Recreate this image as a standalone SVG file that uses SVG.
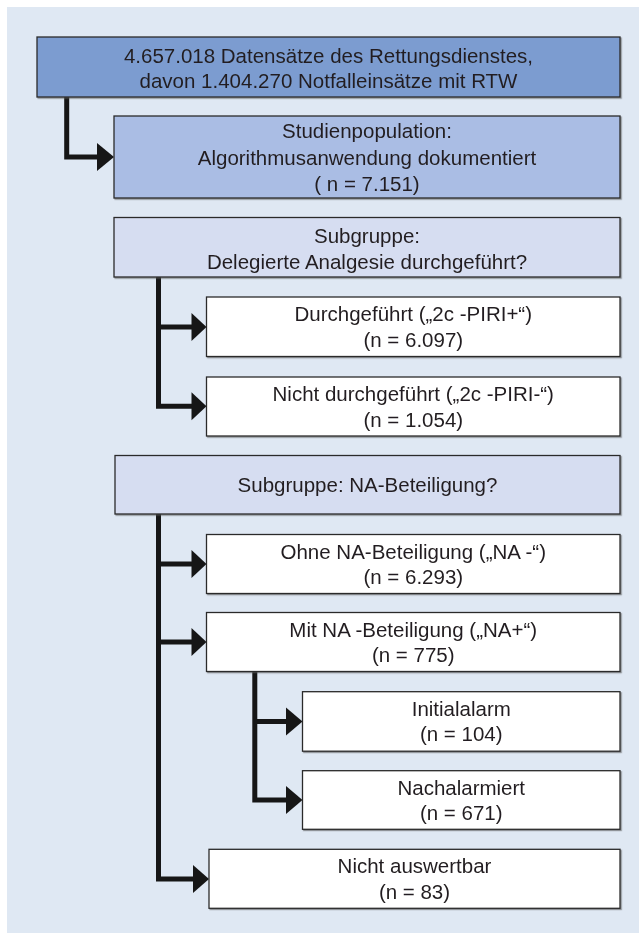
<svg xmlns="http://www.w3.org/2000/svg" width="639" height="933" viewBox="0 0 639 933">
<style>
.box{stroke:#2a2a2a;stroke-width:1.3}
.b1{fill:#7b9cd0}
.b2{fill:#aabde4}
.b3{fill:#d6ddf1}
.w{fill:#ffffff}
text{font-family:"Liberation Sans",Arial,sans-serif;font-size:20.5px;fill:#231f20;text-anchor:middle}
.ln{fill:none;stroke:#161616;stroke-width:5;stroke-linejoin:miter;stroke-linecap:butt}
.ah{fill:#161616}
</style>
<defs>
<filter id="sh" x="-5%" y="-5%" width="115%" height="130%">
<feDropShadow dx="1.2" dy="1.2" stdDeviation="0.6" flood-color="#555" flood-opacity="0.6"/>
</filter>
</defs>
<rect x="7" y="7" width="632" height="926" fill="#dfe8f3"/>

<g id="connectors">
<path class="ln" d="M66.7,97 V157 H98"/>
<polygon class="ah" points="97,143 114,157 97,171"/>
<path class="ln" d="M158.5,277 V406.3 H193"/>
<path class="ln" d="M158.5,327 H193"/>
<polygon class="ah" points="191.5,313 206.5,327 191.5,341"/>
<polygon class="ah" points="191.5,392.3 206.5,406.3 191.5,420.3"/>
<path class="ln" d="M158.5,514 V879 H194"/>
<path class="ln" d="M158.5,564 H193"/>
<path class="ln" d="M158.5,642 H193"/>
<polygon class="ah" points="191.5,550 206.5,564 191.5,578"/>
<polygon class="ah" points="191.5,628 206.5,642 191.5,656"/>
<polygon class="ah" points="193,865 209,879 193,893"/>
<path class="ln" d="M254.8,671.7 V800 H287"/>
<path class="ln" d="M254.8,721.5 H287"/>
<polygon class="ah" points="286,707.5 302.5,721.5 286,735.5"/>
<polygon class="ah" points="286,786 302.5,800 286,814"/>
</g>

<g id="n1" filter="url(#sh)">
<rect class="box b1" x="37" y="37" width="583" height="60"/>
<text x="328.5" y="62.5">4.657.018 Datensätze des Rettungsdienstes,</text>
<text x="328.5" y="88">davon 1.404.270 Notfalleinsätze mit RTW</text>
</g>
<g id="n2" filter="url(#sh)">
<rect class="box b2" x="114" y="116" width="506" height="82"/>
<text x="367" y="138">Studienpopulation:</text>
<text x="367" y="164.5">Algorithmusanwendung dokumentiert</text>
<text x="367" y="191">( n = 7.151)</text>
</g>
<g id="n3" filter="url(#sh)">
<rect class="box b3" x="114" y="217.5" width="506" height="59.5"/>
<text x="367" y="243">Subgruppe:</text>
<text x="367" y="269">Delegierte Analgesie durchgeführt?</text>
</g>
<g id="n4" filter="url(#sh)">
<rect class="box w" x="206.5" y="297" width="413.5" height="59.5"/>
<text x="413.25" y="321">Durchgeführt („2c -PIRI+“)</text>
<text x="413.25" y="346.5">(n = 6.097)</text>
</g>
<g id="n5" filter="url(#sh)">
<rect class="box w" x="206.5" y="377" width="413.5" height="59"/>
<text x="413.25" y="401">Nicht durchgeführt („2c -PIRI-“)</text>
<text x="413.25" y="426.5">(n = 1.054)</text>
</g>
<g id="n6" filter="url(#sh)">
<rect class="box b3" x="115" y="455.5" width="505" height="58.5"/>
<text x="367.5" y="492">Subgruppe: NA-Beteiligung?</text>
</g>
<g id="n7" filter="url(#sh)">
<rect class="box w" x="206.5" y="534.5" width="413.5" height="59"/>
<text x="413.25" y="558.5">Ohne NA-Beteiligung („NA -“)</text>
<text x="413.25" y="584">(n = 6.293)</text>
</g>
<g id="n8" filter="url(#sh)">
<rect class="box w" x="206.5" y="612.5" width="413.5" height="59"/>
<text x="413.25" y="636.5">Mit NA -Beteiligung („NA+“)</text>
<text x="413.25" y="662">(n = 775)</text>
</g>
<g id="n9" filter="url(#sh)">
<rect class="box w" x="302.5" y="691.7" width="317.5" height="59.5"/>
<text x="461.25" y="715.7">Initialalarm</text>
<text x="461.25" y="741.2">(n = 104)</text>
</g>
<g id="n10" filter="url(#sh)">
<rect class="box w" x="302.5" y="770.7" width="317.5" height="58.6"/>
<text x="461.25" y="794.7">Nachalarmiert</text>
<text x="461.25" y="820.2">(n = 671)</text>
</g>
<g id="n11" filter="url(#sh)">
<rect class="box w" x="209" y="849.3" width="411" height="59"/>
<text x="414.5" y="873.3">Nicht auswertbar</text>
<text x="414.5" y="898.8">(n = 83)</text>
</g>
</svg>
